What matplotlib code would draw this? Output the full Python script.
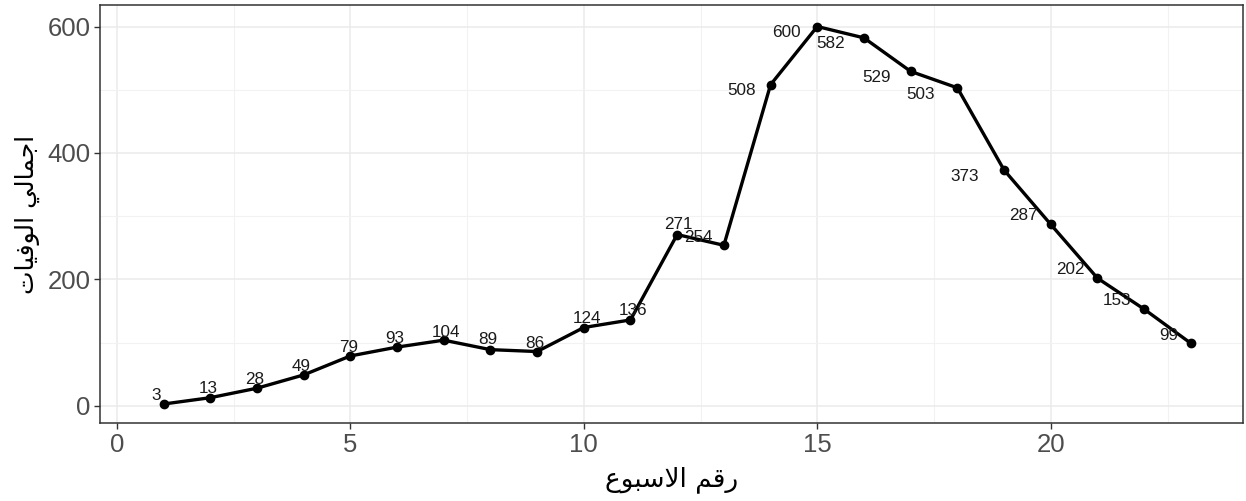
import matplotlib
matplotlib.use('Agg')
import matplotlib.pyplot as plt

weeks = list(range(1, 24))
deaths = [3, 13, 28, 49, 79, 93, 104, 89, 86, 124, 136, 271, 254,
          508, 600, 582, 529, 503, 373, 287, 202, 153, 99]
x_title = 'رقم الاسبوع'
y_title = 'اجمالي الوفيات'

# label nudges in pixels (dx, dy)
label_offsets = [(-7, 9), (-2, 9), (-2, 9), (-2, 8), (-2, 8), (-2, 9), (2, 8),
                 (-3, 10), (-2, 8), (3, 9), (3, 9), (1, 10), (-26, 8),
                 (-29, -6), (-31, -6), (-33, -6), (-34, -6), (-37, -7), (-39, -6),
                 (-27, 9), (-27, 9), (-27, 9), (-22, 8)]

# minimal arabic shaping (matplotlib has no bidi / joining support)
FORMS = {  # isolated, final, initial, medial
    'ا': ('\uFE8D', '\uFE8E', None, None),
    'ب': ('\uFE8F', '\uFE90', '\uFE91', '\uFE92'),
    'ت': ('\uFE95', '\uFE96', '\uFE97', '\uFE98'),
    'ج': ('\uFE9D', '\uFE9E', '\uFE9F', '\uFEA0'),
    'ر': ('\uFEAD', '\uFEAE', None, None),
    'س': ('\uFEB1', '\uFEB2', '\uFEB3', '\uFEB4'),
    'ع': ('\uFEC9', '\uFECA', '\uFECB', '\uFECC'),
    'ف': ('\uFED1', '\uFED2', '\uFED3', '\uFED4'),
    'ق': ('\uFED5', '\uFED6', '\uFED7', '\uFED8'),
    'ل': ('\uFEDD', '\uFEDE', '\uFEDF', '\uFEE0'),
    'م': ('\uFEE1', '\uFEE2', '\uFEE3', '\uFEE4'),
    'و': ('\uFEED', '\uFEEE', None, None),
    'ي': ('\uFEF1', '\uFEF2', '\uFEF3', '\uFEF4'),
}


def joins_left(c):
    return c in FORMS and FORMS[c][2] is not None


def shape_ar(text):
    out = []
    i = 0
    n = len(text)
    while i < n:
        c = text[i]
        if c not in FORMS:
            out.append(c)
            i += 1
            continue
        link_prev = i > 0 and joins_left(text[i - 1])
        if c == 'ل' and i + 1 < n and text[i + 1] == 'ا':
            out.append('\uFEFC' if link_prev else '\uFEFB')
            i += 2
            continue
        nxt = text[i + 1] if i + 1 < n else ''
        link_next = joins_left(c) and nxt in FORMS
        iso, fin, ini, med = FORMS[c]
        if link_prev and link_next:
            out.append(med)
        elif link_prev:
            out.append(fin)
        elif link_next:
            out.append(ini)
        else:
            out.append(iso)
        i += 1
    return ''.join(reversed(out))


fig = plt.figure(figsize=(12.46, 5.01), dpi=100)
ax = fig.add_axes([100 / 1246, 1 - 423 / 501, 1142.7 / 1246, 418 / 501])

ax.plot(weeks, deaths, color='black', lw=2.4, marker='o', ms=6, zorder=3)
for w, d, (dx, dy) in zip(weeks, deaths, label_offsets):
    ax.annotate(str(d), (w, d), xytext=(dx, dy), textcoords='offset pixels',
                ha='center', va='center', fontsize=12.3, color='#1a1a1a',
                family='Liberation Sans', zorder=4)

ax.set_xlim(-0.36, 24.11)
ax.set_ylim(-27, 634)
ax.set_xticks([0, 5, 10, 15, 20])
ax.set_yticks([0, 200, 400, 600])
ax.set_xticks([2.5, 7.5, 12.5, 17.5, 22.5], minor=True)
ax.set_yticks([100, 300, 500], minor=True)
ax.grid(which='major', color='#ebebeb', lw=1.1)
ax.grid(which='minor', color='#f2f2f2', lw=0.8)
ax.set_axisbelow(True)
ax.tick_params(which='minor', length=0)
ax.tick_params(which='major', length=4, width=1, color='#333333',
               labelsize=18.5, labelcolor='#4d4d4d', pad=3)
for lab in ax.get_xticklabels() + ax.get_yticklabels():
    lab.set_family('Liberation Sans')
for sp in ax.spines.values():
    sp.set_color('#333333')
    sp.set_linewidth(1.1)

ax.set_xlabel(shape_ar(x_title), fontsize=19, family='DejaVu Sans', labelpad=7)
ax.set_ylabel(shape_ar(y_title), fontsize=18, family='DejaVu Sans', labelpad=5)

fig.savefig('out.png', dpi=100)
